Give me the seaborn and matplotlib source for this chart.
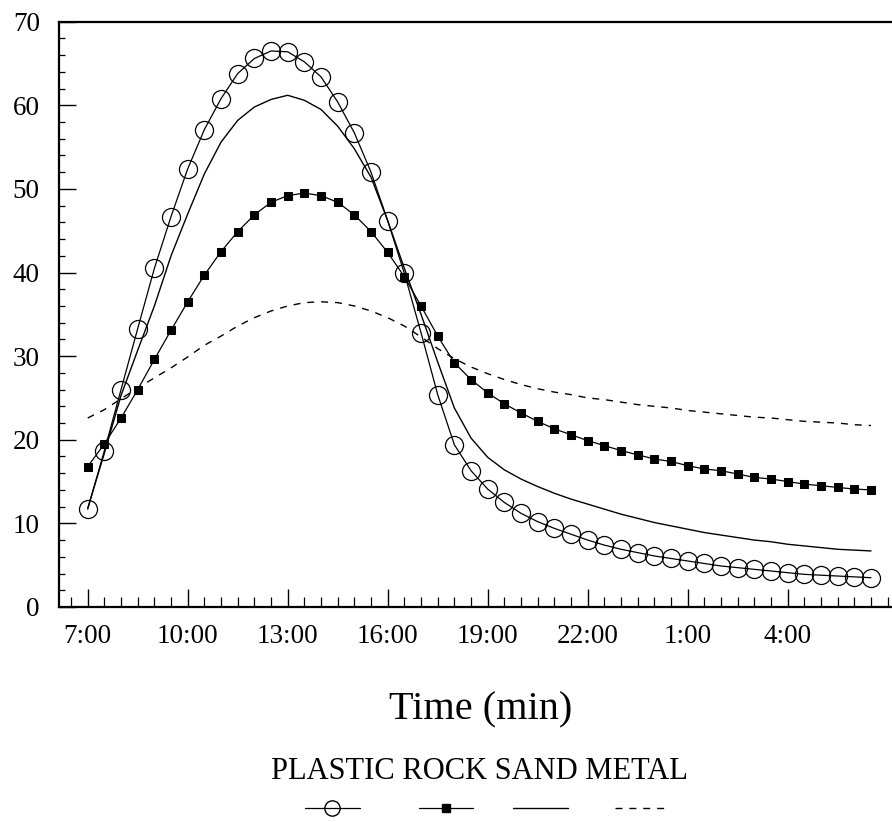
import numpy as np
import pandas as pd
import matplotlib
matplotlib.use("Agg")
import matplotlib.pyplot as plt
from matplotlib.lines import Line2D
from matplotlib.ticker import MultipleLocator
import seaborn as sns

# Half-hourly readings from 7:00 through 6:30 the next morning
hours = np.arange(7.0, 31.0, 0.5)

plastic = [11.7, 18.7, 26.0, 33.3, 40.5, 46.7, 52.4, 57.1, 60.8, 63.8,
           65.6, 66.5, 66.4, 65.2, 63.4, 60.4, 56.7, 52.0, 46.2, 39.9,
           32.8, 25.4, 19.4, 16.3, 14.1, 12.5, 11.2, 10.2, 9.4, 8.7,
           8.0, 7.4, 6.9, 6.5, 6.1, 5.8, 5.5, 5.2, 4.9, 4.7,
           4.5, 4.3, 4.1, 3.9, 3.8, 3.7, 3.6, 3.5]

rock = [16.8, 19.5, 22.6, 26.0, 29.6, 33.1, 36.5, 39.7, 42.5, 44.9,
        46.9, 48.4, 49.2, 49.5, 49.2, 48.4, 46.9, 44.9, 42.4, 39.5,
        36.0, 32.4, 29.2, 27.2, 25.6, 24.3, 23.2, 22.2, 21.3, 20.6,
        19.9, 19.3, 18.7, 18.2, 17.7, 17.4, 16.9, 16.5, 16.3, 15.9,
        15.5, 15.3, 15.0, 14.7, 14.5, 14.3, 14.1, 14.0]

sand = [11.8, 18.4, 25.3, 30.7, 36.0, 42.0, 47.0, 51.8, 55.6, 58.2,
        59.8, 60.7, 61.2, 60.6, 59.5, 57.5, 54.8, 51.4, 46.2, 40.5,
        35.0, 29.3, 23.8, 20.2, 17.9, 16.4, 15.3, 14.4, 13.6, 12.9,
        12.3, 11.7, 11.1, 10.6, 10.1, 9.7, 9.3, 8.9, 8.6, 8.3,
        8.0, 7.8, 7.5, 7.3, 7.1, 6.9, 6.8, 6.7]

metal = [22.6, 23.6, 24.9, 26.2, 27.4, 28.6, 29.9, 31.3, 32.4, 33.6,
         34.6, 35.4, 36.0, 36.4, 36.5, 36.4, 36.0, 35.4, 34.6, 33.6,
         32.3, 30.9, 29.7, 28.7, 27.9, 27.2, 26.6, 26.1, 25.7, 25.4,
         25.0, 24.8, 24.5, 24.2, 24.0, 23.8, 23.5, 23.3, 23.1, 22.9,
         22.7, 22.6, 22.4, 22.2, 22.1, 22.0, 21.8, 21.7]

materials = ["PLASTIC", "ROCK", "SAND", "METAL"]
tick_hours = [7, 10, 13, 16, 19, 22, 25, 28]
tick_labels = ["7:00", "10:00", "13:00", "16:00", "19:00", "22:00", "1:00", "4:00"]
y_ticks = [0, 10, 20, 30, 40, 50, 60, 70]

df = pd.DataFrame({
    "hour": np.tile(hours, 4),
    "value": np.concatenate([plastic, rock, sand, metal]),
    "material": np.repeat(materials, len(hours)),
})

sns.set_style("ticks")
plt.rcParams["font.family"] = ["Liberation Serif", "DejaVu Serif"]
plt.rcParams["text.color"] = "black"
plt.rcParams["axes.labelcolor"] = "black"
plt.rcParams["xtick.color"] = "black"
plt.rcParams["ytick.color"] = "black"

fig = plt.figure(figsize=(8.92, 8.22), dpi=100)
ax = fig.add_axes([0.0665, 0.2616, 0.9335, 0.712])

styles = {
    "PLASTIC": dict(marker="o", markersize=13, markerfacecolor="none",
                    markeredgecolor="black", markeredgewidth=0.9,
                    linestyle="-", linewidth=0.9),
    "ROCK": dict(marker="s", markersize=6, markerfacecolor="black",
                 markeredgecolor="black", linestyle="-", linewidth=0.9),
    "SAND": dict(linestyle="-", linewidth=1.0),
    "METAL": dict(linestyle=(0, (5, 5)), linewidth=1.0),
}

for name in materials:
    sub = df[df["material"] == name]
    sns.lineplot(data=sub, x="hour", y="value", ax=ax, color="black",
                 legend=False, **styles[name])

ax.set_xlim(6.148, 31.13)
ax.set_ylim(0, 70)
ax.set_xticks(tick_hours)
ax.set_xticklabels(tick_labels)
ax.set_yticks(y_ticks)
ax.xaxis.set_minor_locator(MultipleLocator(0.5))
ax.yaxis.set_minor_locator(MultipleLocator(2))

ax.tick_params(axis="both", which="major", direction="in", labelsize=19.5,
               width=1.0, colors="black")
ax.tick_params(axis="x", which="major", length=13, pad=12.5)
ax.tick_params(axis="y", which="major", length=12, pad=14)
ax.tick_params(axis="x", which="minor", direction="in", length=7, width=0.9)
ax.tick_params(axis="y", which="minor", direction="in", length=4.5, width=0.9)

for side in ["left", "bottom", "top"]:
    ax.spines[side].set_linewidth(1.6)
    ax.spines[side].set_color("black")
ax.spines["right"].set_visible(False)

ax.set_ylabel("")
ax.set_xlabel("Time (min)", fontsize=29, labelpad=30, color="black")
ax.xaxis.label.set_x(0.5058)

# Legend: names on one row, line samples beneath each name
W, H = 892.0, 822.0
fig.text(479 / W, 1 - 771 / H, "PLASTIC ROCK SAND METAL",
         ha="center", va="center", fontsize=22, color="black")
handle_x = [332, 446, 540, 641]
handle_len = [55, 54, 55, 53]
legend_marker_size = {"PLASTIC": 11, "ROCK": 6}
yy = 1 - 808 / H
for name, hx, hl in zip(materials, handle_x, handle_len):
    st = styles[name]
    fig.add_artist(Line2D([(hx - hl / 2) / W, (hx + hl / 2) / W], [yy, yy],
                          transform=fig.transFigure, color="black",
                          linestyle=st["linestyle"], linewidth=st["linewidth"]))
    if "marker" in st:
        fig.add_artist(Line2D([hx / W], [yy], transform=fig.transFigure,
                              linestyle="none", marker=st["marker"],
                              markersize=legend_marker_size[name],
                              markerfacecolor=st["markerfacecolor"],
                              markeredgecolor="black", color="black"))

fig.savefig("out.png", dpi=100)
